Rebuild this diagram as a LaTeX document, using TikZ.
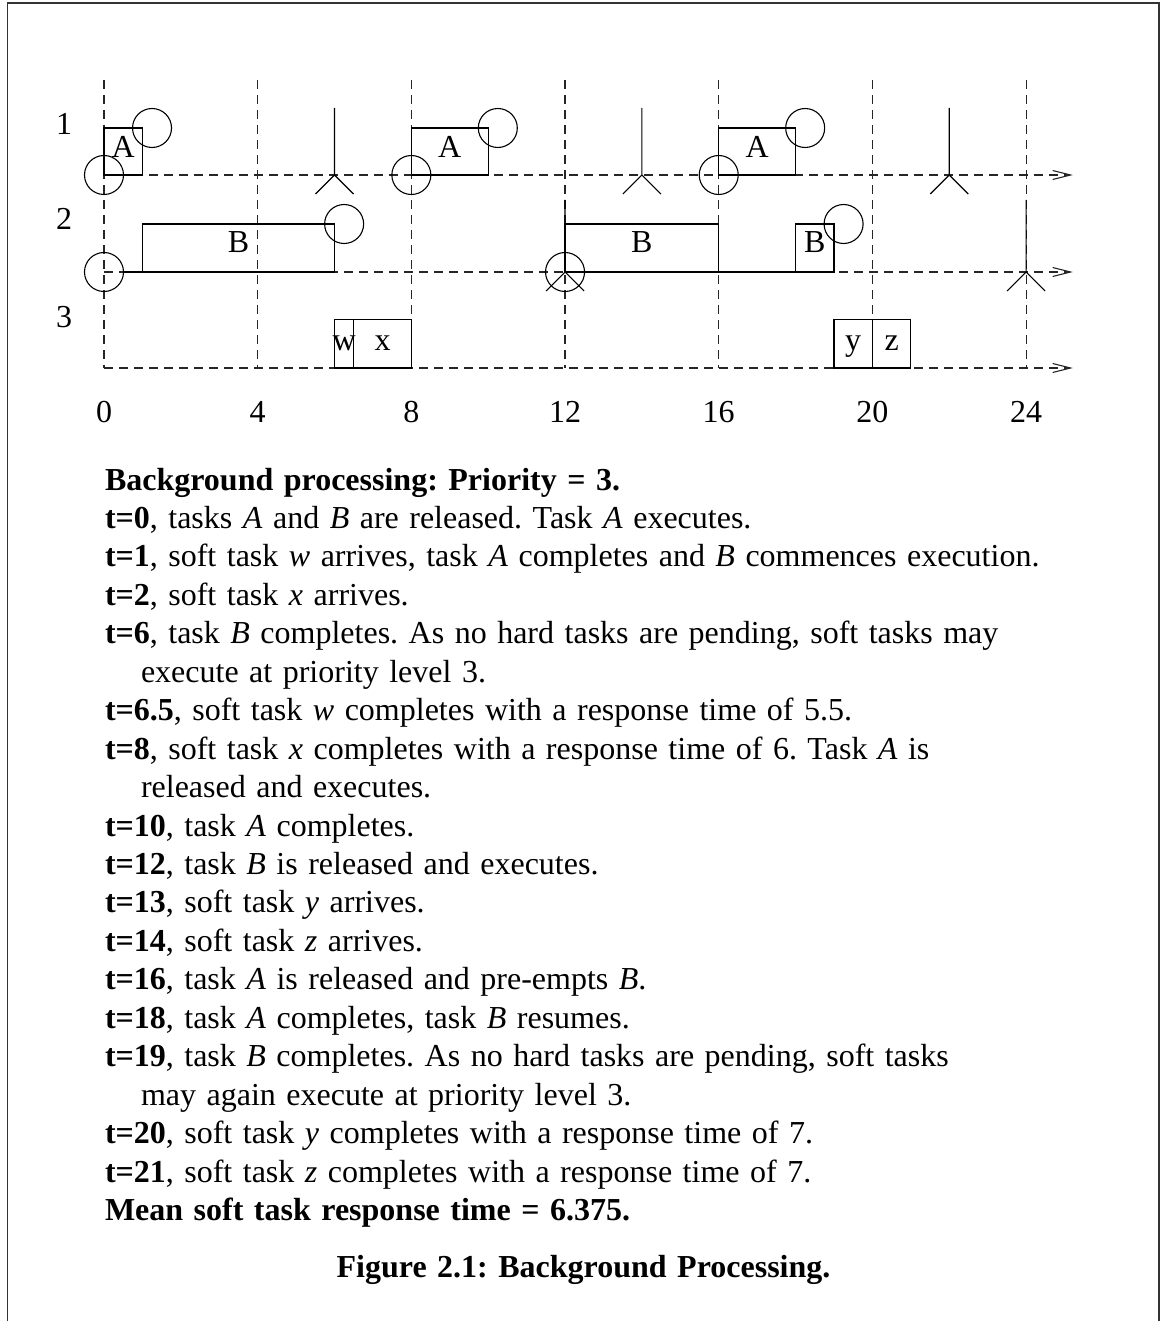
\documentclass[tikz,border=0pt]{standalone}
\usepackage{fontspec}
\setmainfont{Liberation Serif}
\usetikzlibrary{arrows.meta}
\newcommand\mytxtfont{\fontsize{32}{38.45}\selectfont\frenchspacing\spaceskip=10.5pt plus 2pt\relax}
\newcommand\mycapfont{\fontsize{32}{38.45}\selectfont\bfseries\frenchspacing\spaceskip=10.5pt plus 2pt\relax}
\begin{document}
\begin{tikzpicture}[x=1pt,y=-1pt,
  every node/.style={inner sep=0pt, outer sep=0pt},
  lbl/.style={font=\fontsize{32}{38}\selectfont, anchor=base},
  txt/.style={font=\mytxtfont, anchor=base west},
  captxt/.style={font=\mycapfont, anchor=base},
  frameline/.style={line width=1.3pt, black!80},
  gridline/.style={line width=1.1pt, black!85, dash pattern=on 9pt off 6pt},
  axisline/.style={line width=1.1pt, black!85, dash pattern=on 9pt off 6pt, -{Straight Barb[length=18pt,width=9pt]}},
  task/.style={line width=1.1pt, black},
]
\useasboundingbox (0,0) rectangle (1161,1321);
\draw[frameline] (7.5,1321) -- (7.5,3) -- (1159,3) -- (1159,1321);

\begin{scope}[xshift=104pt, x=38.42pt]
  % grid
  \foreach \t in {0,4,...,24} \draw[gridline] (\t,80) -- (\t,368);
  % axes
  \coordinate (o1) at (0,175); \coordinate (e1) at (25.22,175);
  \coordinate (o2) at (0,272); \coordinate (e2) at (25.22,272);
  \coordinate (o3) at (0,368); \coordinate (e3) at (25.22,368);
  \draw[axisline] (o1) -- (e1);
  \draw[axisline] (o2) -- (e2);
  \draw[axisline] (o3) -- (e3);
  % axis numbers
  \foreach \t in {0,4,...,24} \node[lbl] (n\t) at (\t,422) {\t};
  % row labels
  \node[lbl] (r1) at (-1.04,135) {1};
  \node[lbl] (r2) at (-1.04,230) {2};
  \node[lbl] (r3) at (-1.04,327) {3};

  % ---- row 1: task A
  \draw[task] (0,128) rectangle (1,175);
  \draw[task] (8,128) rectangle (10,175);
  \draw[task] (16,128) rectangle (18,175);
  \node[lbl] (a1) at (0.5,158) {A};
  \node[lbl] (a2) at (9,158) {A};
  \node[lbl] (a3) at (17,158) {A};
  \foreach \t in {0,8,16} \draw[task] (\t,175) circle[radius=19.5pt];
  \foreach \t in {1,10,18} \draw[task] ({\t+0.25},128) circle[radius=19.5pt];
  \foreach \t in {6,14,22}
    \draw[task] (\t,108) -- (\t,175) (\t,175) ++(-19pt,-19pt) -- (\t,175) -- ++(19pt,-19pt);

  % ---- row 2: task B
  \draw[task] (0,272) circle[radius=19.5pt];
  \draw[task] (0.51,272) -- (1,272);
  \draw[task] (1,224) rectangle (6,272);
  \node[lbl] (b1) at (3.5,253) {B};
  \draw[task] (6.25,224) circle[radius=19.5pt];
  \draw[task] (12,272) circle[radius=19.5pt];
  \draw[task] (12,224) rectangle (16,272);
  \node[lbl] (b2) at (14,253) {B};
  \draw[task] (16,272) -- (18,272);
  \draw[task] (18,224) rectangle (19,272);
  \node[lbl] (b3) at (18.5,253) {B};
  \draw[task] (19.25,224) circle[radius=19.5pt];
  \foreach \t in {12,24}
    \draw[task] (\t,200) -- (\t,272) (\t,272) ++(-19pt,-19pt) -- (\t,272) -- ++(19pt,-19pt);

  % ---- row 3: soft tasks
  \draw[task] (6,319.5) rectangle (6.5,368);
  \draw[task] (6.5,319.5) rectangle (8,368);
  \draw[task] (19,319.5) rectangle (20,368);
  \draw[task] (20,319.5) rectangle (21,368);
  \node[lbl] (sw) at (6.25,350) {w};
  \node[lbl] (sx) at (7.25,350) {x};
  \node[lbl] (sy) at (19.5,350) {y};
  \node[lbl] (sz) at (20.5,350) {z};
\end{scope}

% ---- text
\node[txt] (l1) at (105,490) {\textbf{Background processing: Priority = 3.}};
\node[txt] (l2) at (105,528.45) {\textbf{t=0}, tasks \textit{A} and \textit{B} are released. Task \textit{A} executes.};
\node[txt] (l3) at (105,566.9) {\textbf{t=1}, soft task \textit{w} arrives, task \textit{A} completes and \textit{B} commences execution.};
\node[txt] (l4) at (105,605.35) {\textbf{t=2}, soft task \textit{x} arrives.};
\node[txt] (l5) at (105,643.8) {\textbf{t=6}, task \textit{B} completes. As no hard tasks are pending, soft tasks may};
\node[txt] (l6) at (141,682.25) {execute at priority level 3.};
\node[txt] (l7) at (105,720.7) {\textbf{t=6.5}, soft task \textit{w} completes with a response time of 5.5.};
\node[txt] (l8) at (105,759.15) {\textbf{t=8}, soft task \textit{x} completes with a response time of 6. Task \textit{A} is};
\node[txt] (l9) at (141,797.6) {released and executes.};
\node[txt] (l10) at (105,836.05) {\textbf{t=10}, task \textit{A} completes.};
\node[txt] (l11) at (105,874.5) {\textbf{t=12}, task \textit{B} is released and executes.};
\node[txt] (l12) at (105,912.95) {\textbf{t=13}, soft task \textit{y} arrives.};
\node[txt] (l13) at (105,951.4) {\textbf{t=14}, soft task \textit{z} arrives.};
\node[txt] (l14) at (105,989.85) {\textbf{t=16}, task \textit{A} is released and pre-empts \textit{B}.};
\node[txt] (l15) at (105,1028.3) {\textbf{t=18}, task \textit{A} completes, task \textit{B} resumes.};
\node[txt] (l16) at (105,1066.75) {\textbf{t=19}, task \textit{B} completes. As no hard tasks are pending, soft tasks};
\node[txt] (l17) at (141,1105.2) {may again execute at priority level 3.};
\node[txt] (l18) at (105,1143.65) {\textbf{t=20}, soft task \textit{y} completes with a response time of 7.};
\node[txt] (l19) at (105,1182.1) {\textbf{t=21}, soft task \textit{z} completes with a response time of 7.};
\node[txt] (l20) at (105,1220.55) {\textbf{Mean soft task response time = 6.375.}};
\node[captxt] (caption) at (583.5,1277) {Figure 2.1: Background Processing.};
\end{tikzpicture}
\end{document}
